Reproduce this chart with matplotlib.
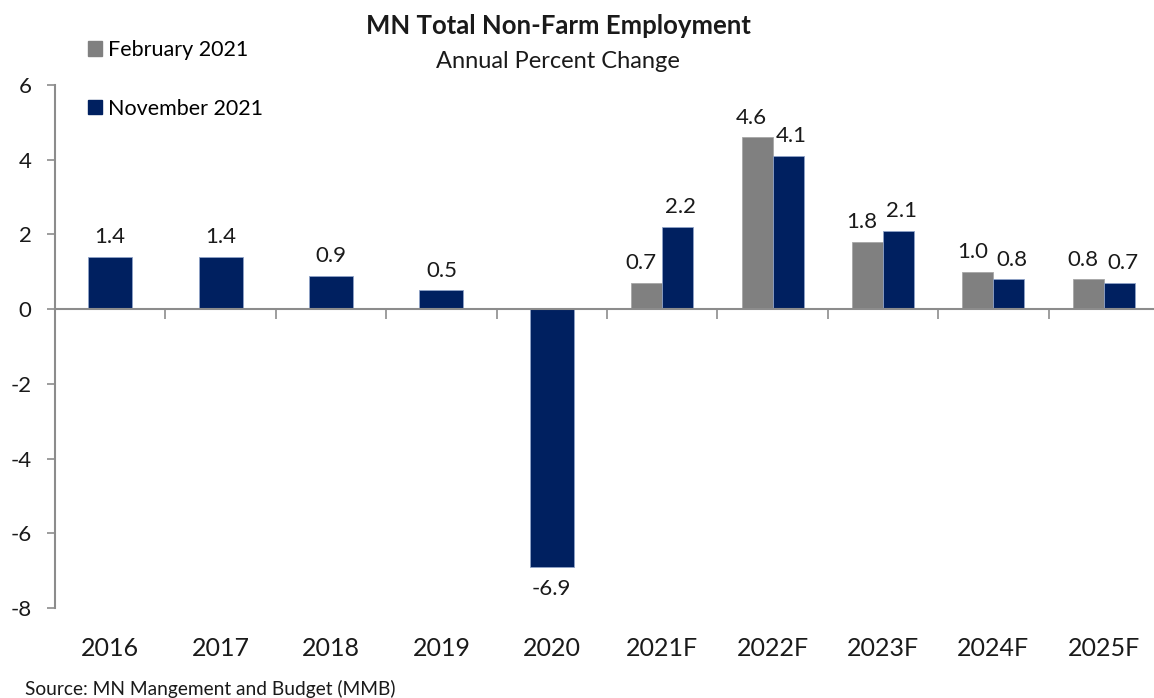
import matplotlib
matplotlib.use("Agg")
import matplotlib.pyplot as plt
import matplotlib.transforms as mtransforms
from matplotlib.patches import Patch
import numpy as np

categories = ["2016", "2017", "2018", "2019", "2020", "2021F", "2022F", "2023F", "2024F", "2025F"]
feb_2021 = [None, None, None, None, None, 0.7, 4.6, 1.8, 1.0, 0.8]
nov_2021 = [1.4, 1.4, 0.9, 0.5, -6.9, 2.2, 4.1, 2.1, 0.8, 0.7]
feb_label = "February 2021"
nov_label = "November 2021"
title = "MN Total Non-Farm Employment"
subtitle = "Annual Percent Change"
source = "Source: MN Mangement and Budget (MMB)"
yticks = [-8, -6, -4, -2, 0, 2, 4, 6]

GREY = "#808080"
NAVY = "#002060"
AXC = "#8c8c8c"
TXT = "#1a1a1a"
FONT = ["Lato", "DejaVu Sans"]
plt.rcParams["font.family"] = FONT

W, H = 1154, 698
fig = plt.figure(figsize=(W / 100, H / 100), dpi=100)
ax = fig.add_axes([55 / W, 1 - 608 / H, (1154 - 55) / W, (608 - 85) / H])

x = np.arange(len(categories))
single_w = 0.40
pair_w = 0.28

def label(xc, v):
    txt = f"{v:.1f}"
    if v >= 0:
        ax.annotate(txt, (xc, v), xytext=(0, 7), textcoords="offset points",
                    ha="center", va="bottom", fontsize=16, color=TXT)
    else:
        ax.annotate(txt, (xc, v), xytext=(0, -9), textcoords="offset points",
                    ha="center", va="top", fontsize=16, color=TXT)

for i in range(len(categories)):
    f = feb_2021[i]
    n = nov_2021[i]
    if f is None:
        ax.bar(x[i], n, width=single_w, color=NAVY, edgecolor="#8fa3c8", linewidth=0.6)
        label(x[i], n)
    else:
        ax.bar(x[i] - pair_w / 2, f, width=pair_w, color=GREY, edgecolor="#a6a6a6", linewidth=0.6)
        ax.bar(x[i] + pair_w / 2, n, width=pair_w, color=NAVY, edgecolor="#8fa3c8", linewidth=0.6)
        label(x[i] - pair_w / 2 - 0.05, f)
        label(x[i] + pair_w / 2 + 0.03, n)

ax.set_ylim(-8, 6)
ax.set_xlim(-0.5, 9.5 - 5 / 110.4)
ax.set_yticks(yticks)
ax.set_yticklabels([str(t) for t in yticks], fontsize=16)
ax.tick_params(axis="y", direction="out", length=6, width=1.2, color=AXC, pad=11, labelcolor=TXT)

ax.spines["top"].set_visible(False)
ax.spines["right"].set_visible(False)
ax.spines["left"].set_color(AXC)
ax.spines["left"].set_linewidth(1.5)
ax.spines["bottom"].set_position(("data", 0))
ax.spines["bottom"].set_color(AXC)
ax.spines["bottom"].set_linewidth(1.5)

ax.set_xticks(x)
ax.set_xticklabels([])
ax.tick_params(axis="x", which="major", length=0)
ax.set_xticks(np.arange(0.5, len(categories) - 0.5, 1.0), minor=True)
ax.tick_params(axis="x", which="minor", direction="out", length=7, width=1.2, color=AXC)

trans = mtransforms.blended_transform_factory(ax.transData, fig.transFigure)
for i, c in enumerate(categories):
    ax.text(x[i], 1 - 648 / H, c, transform=trans, ha="center", va="center",
            fontsize=18, color=TXT)

fig.text(558 / W, 1 - 26 / H, title, ha="center", va="center", fontsize=18.5, fontweight="bold", color=TXT)
fig.text(558 / W, 1 - 61 / H, subtitle, ha="center", va="center", fontsize=17, color=TXT)
fig.text(25 / W, 1 - 689 / H, source, ha="left", va="center", fontsize=13.8, color=TXT)

handles = [Patch(facecolor=GREY, edgecolor=GREY), Patch(facecolor=NAVY, edgecolor=NAVY)]
fig.legend(handles, [feb_label, nov_label], loc="upper left", bbox_to_anchor=(88 / W, 1 - 40 / H),
           frameon=False, fontsize=15.5, handlelength=0.65, handleheight=0.65, handletextpad=0.3,
           labelspacing=1.8, borderpad=0, borderaxespad=0)

fig.savefig("out.png", dpi=100)
